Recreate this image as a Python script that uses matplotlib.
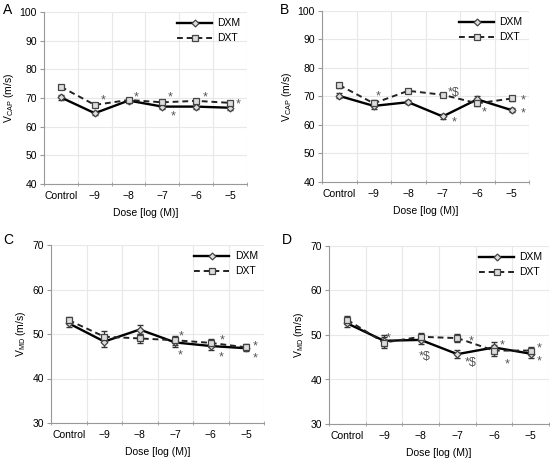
import matplotlib.pyplot as plt

doses = ["Control", "\u22129", "\u22128", "\u22127", "\u22126", "\u22125"]

# panel A - V_CAP
a_dxm = [70.2, 64.7, 69.1, 67.0, 67.0, 66.6]
a_dxt = [73.9, 67.6, 69.3, 68.5, 69.0, 68.3]
a_err = [0.8, 0.8, 0.7, 0.9, 0.8, 0.8]
a_stars = [(1.25, 70.5, "*"), (2.21, 71.3, "*"), (3.22, 71.3, "*"), (3.31, 64.7, "*"),
           (4.25, 71.3, "*"), (5.25, 69.1, "*")]

# panel B - V_CAP
b_dxm = [70.2, 66.7, 68.0, 63.0, 69.0, 65.2]
b_dxt = [74.0, 67.6, 72.0, 70.6, 67.6, 69.3]
b_err = [0.9, 1.0, 0.8, 0.8, 1.0, 0.8]
b_stars = [(1.13, 71.1, "*"), (3.32, 72.6, "*$"), (3.34, 62.0, "*"), (4.21, 65.5, "*"),
           (5.32, 69.9, "*"), (5.32, 65.3, "*")]

# panel C - V_MD
c_dxm = [52.4, 48.3, 51.0, 48.1, 47.3, 46.8]
c_dxt = [53.1, 49.4, 49.0, 48.6, 48.0, 47.0]
c_err = [0.8, 1.2, 1.0, 1.0, 0.9, 0.7]
c_stars = [(3.17, 50.2, "*"), (3.15, 46.0, "*"), (4.31, 49.3, "*"), (4.29, 45.5, "*"),
           (5.25, 47.9, "*"), (5.25, 45.2, "*")]

# panel D - V_MD
d_dxm = [52.6, 48.7, 48.9, 45.7, 47.2, 45.8]
d_dxt = [53.4, 48.3, 49.6, 49.3, 46.5, 46.5]
d_err = [0.9, 1.2, 0.9, 0.9, 1.2, 0.9]
d_stars = [(1.11, 50.0, "*"), (2.12, 45.9, "*$"), (3.36, 44.4, "*$"), (3.37, 49.3, "*"),
           (4.21, 48.4, "*"), (4.35, 44.2, "*"), (5.23, 47.7, "*"), (5.23, 44.9, "*")]

panels = [
    ("A", a_dxm, a_dxt, a_err, a_stars, (40, 100), range(40, 101, 10), "CAP",
     [44, 12, 247, 184], (3, 3)),
    ("B", b_dxm, b_dxt, b_err, b_stars, (40, 100), range(40, 101, 10), "CAP",
     [322, 11, 529, 182], (280, 3)),
    ("C", c_dxm, c_dxt, c_err, c_stars, (30, 70), range(30, 71, 10), "MD",
     [51, 245, 264, 423], (3, 233)),
    ("D", d_dxm, d_dxt, d_err, d_stars, (30, 70), range(30, 71, 10), "MD",
     [329, 246, 549, 424], (282, 233)),
]

W, H = 555, 458
fig = plt.figure(figsize=(W / 100, H / 100), dpi=100)
plt.rcParams["font.family"] = ["Liberation Sans", "DejaVu Sans"]

x = list(range(len(doses)))
for letter, dxm, dxt, err, stars, ylim, yticks, sub, box, lpos in panels:
    l, t, r, b = box
    ax = fig.add_axes([l / W, 1 - b / H, (r - l) / W, (b - t) / H])
    ax.errorbar(x, dxm, yerr=err, fmt="none", ecolor="#333333", elinewidth=0.9,
                capsize=2, zorder=2)
    ax.errorbar(x, dxt, yerr=err, fmt="none", ecolor="#333333", elinewidth=0.9,
                capsize=2, zorder=2)
    ax.plot(x, dxm, color="black", lw=1.7, ls="-", marker="D", ms=3.5,
            mfc="#dddddd", mec="#444444", mew=0.9, label="DXM", zorder=3)
    ax.plot(x, dxt, color="#222222", lw=1.4, ls=(0, (3, 2)), marker="s", ms=5,
            mfc="#dddddd", mec="#444444", mew=0.9, label="DXT", zorder=3)
    # significance marks
    for sx, sy, s in stars:
        ax.annotate(s, (sx, sy), xytext=(0, -2.5), textcoords="offset points",
                    fontsize=9, color="#555555", ha="center", va="center")

    ax.set_xlim(-0.5, len(doses) - 0.5)
    ax.set_ylim(*ylim)
    ax.set_xticks(x)
    ax.set_xticklabels(doses)
    ax.set_xticks([i - 0.5 for i in range(len(doses) + 1)], minor=True)
    ax.set_yticks(list(yticks))
    ax.tick_params(axis="x", which="major", length=0, labelsize=7.5, pad=5)
    ax.tick_params(axis="x", which="minor", length=3, direction="inout",
                   color="#999999")
    ax.tick_params(axis="y", length=3, direction="out", color="#999999",
                   labelsize=7.5, pad=2)
    ax.grid(True, axis="y", which="major", color="#e8e8e8", lw=0.8)
    ax.grid(True, axis="x", which="minor", color="#e8e8e8", lw=0.8)
    ax.set_axisbelow(True)
    for side in ["top", "right"]:
        ax.spines[side].set_visible(False)
    for side in ["left", "bottom"]:
        ax.spines[side].set_color("#999999")
    ax.set_xlabel("Dose [log (M)]", fontsize=7.5, labelpad=5)
    ax.set_ylabel(r"V$_{\mathregular{%s}}$ (m/s)" % sub, fontsize=7.5, labelpad=3)
    ax.legend(loc="upper right", frameon=False, fontsize=7.5, handlelength=3.4,
              borderaxespad=0.2, labelspacing=0.5, handletextpad=0.5)
    fig.text(lpos[0] / W, 1 - lpos[1] / H, letter, fontsize=10, ha="left", va="top")

fig.savefig("out.png", dpi=100)
